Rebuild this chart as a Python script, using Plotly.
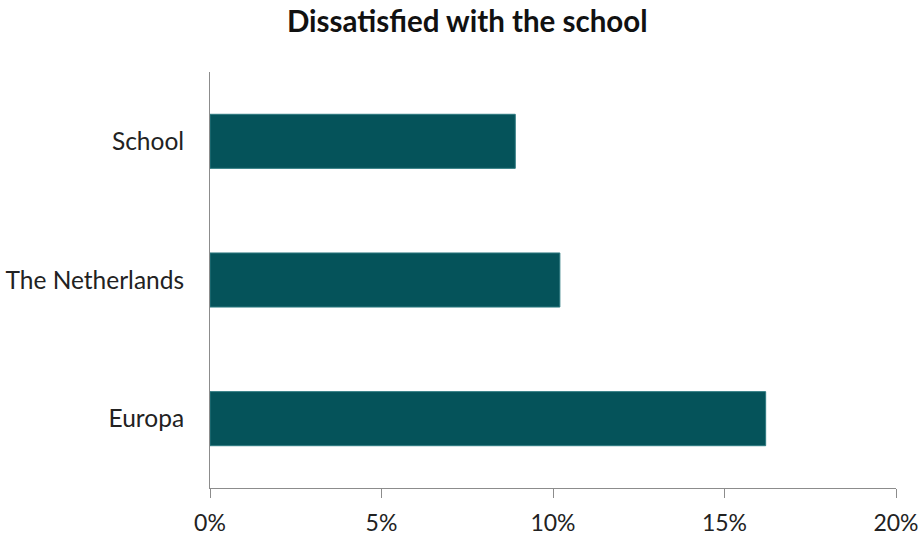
import plotly.graph_objects as go

categories = ["School", "The Netherlands", "Europa"]
values = [0.089, 0.102, 0.162]
tick_vals = [0, 0.05, 0.10, 0.15, 0.20]
tick_text = ["0%", "5%", "10%", "15%", "20%"]

fig = go.Figure(go.Bar(
    x=values, y=categories, orientation="h",
    marker=dict(color="#05535A", line=dict(color="#2E7A80", width=1)),
))

fig.update_layout(
    width=918, height=538,
    margin=dict(l=210, r=22, t=72, b=50),
    paper_bgcolor="white", plot_bgcolor="white",
    bargap=0.61,
    showlegend=False,
    font=dict(family="Lato", size=24, color="#222222"),
    title=dict(text="<b>Dissatisfied with the school</b>", x=0.509, xanchor="center",
               xref="container", y=0.96, yanchor="middle", yref="container",
               font=dict(family="Lato", size=29.5, color="#111111")),
)
fig.update_xaxes(range=[0, 0.2], tickvals=tick_vals, ticktext=tick_text,
                 showgrid=False, zeroline=False, showline=True, linecolor="#8C8C8C",
                 linewidth=1, ticks="outside", ticklen=9, tickcolor="#8C8C8C",
                 ticklabelstandoff=5, ticklabeloverflow="allow", automargin=False,
                 tickfont=dict(size=23, color="#222222"))
fig.update_yaxes(autorange="reversed", showgrid=False, zeroline=False, showline=True,
                 linecolor="#8C8C8C", linewidth=1, ticks="", ticklabelstandoff=20,
                 automargin=False,
                 tickfont=dict(size=24.5, color="#222222"))

fig.write_html("out.html", config={"displayModeBar": False},
               post_script="document.body.style.margin='0';")
